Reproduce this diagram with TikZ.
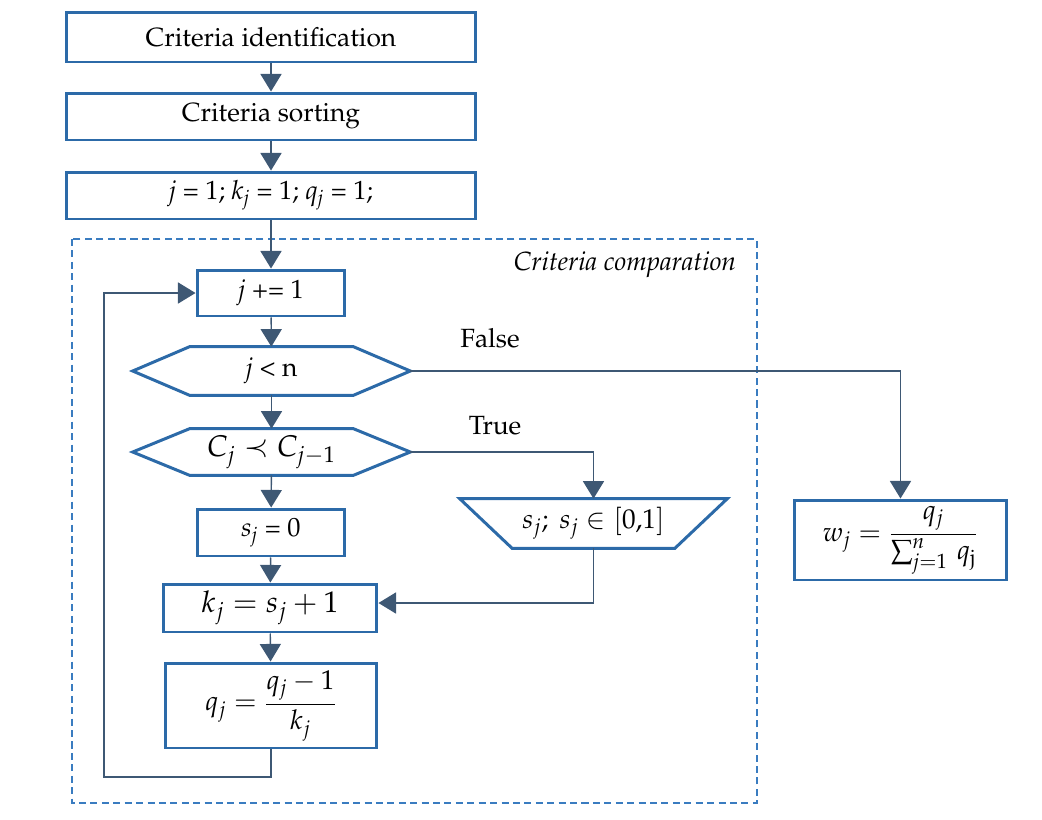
\documentclass[tikz,border=0pt]{standalone}
\usepackage{amsmath}
\usepackage[T1]{fontenc}
\usepackage{mathpazo}
\usepackage{amssymb}
\usepackage{tikz}
\usetikzlibrary{arrows.meta}
\definecolor{boxblue}{HTML}{2C6AA8}
\definecolor{flowline}{HTML}{3E5874}
\definecolor{framblue}{HTML}{3A7CC0}
\newcommand{\ivar}[2]{\textit{#1}\textsubscript{\textit{#2}}}

\begin{document}
\begin{tikzpicture}[x=0.02cm, y=-0.02cm, >={Triangle[length=10pt, width=12pt]},
    stepbox/.style={draw=boxblue, line width=1.7pt, minimum width=#1, inner sep=2pt, font=\fontsize{15}{18}\selectfont},
    plainbox/.style={minimum width=#1, inner sep=2pt, font=\fontsize{15}{18}\selectfont},
    bigtext/.style={font=\fontsize{15}{18}\selectfont},
    bigmath/.style={font=\fontsize{#1}{20}\selectfont},
    flow/.style={draw=flowline, line width=0.8pt},
    shapeline/.style={draw=boxblue, line width=1.7pt, line join=miter}]
  \useasboundingbox (0,0) rectangle (1042,819);
  % frame of the comparison loop
  \draw[framblue, line width=1.1pt, dash pattern=on 4pt off 2.5pt] (72,239) rectangle (757,803);
  \node[font=\fontsize{15}{18}\selectfont\itshape] (cmpl) at (625,265) {Criteria comparation};
  % steps
  \node[stepbox=8.2cm, minimum height=1.0cm] (ident) at (271,37) {Criteria identification};
  \node[stepbox=8.2cm, minimum height=0.94cm] (sort) at (271,116.5) {Criteria sorting};
  \node[stepbox=8.2cm, minimum height=0.94cm] (init) at (271,195.5) {\textit{j} = 1; \ivar{k}{j} = 1; \ivar{q}{j} = 1;};
  \node[stepbox=2.96cm, minimum height=0.92cm] (inc) at (271,293) {\textit{j} += 1};
  \node[plainbox=5.54cm, minimum height=0.96cm] (lt) at (271.5,371) {\textit{j} < n};
  \node[plainbox=5.54cm, minimum height=0.92cm, bigmath=17] (prec) at (271.5,452) {$C_j \prec C_{j-1}$};
  \node[stepbox=2.96cm, minimum height=0.94cm] (szero) at (271,532.5) {\ivar{s}{j} = 0};
  \node[plainbox=5.34cm, minimum height=0.98cm, bigmath=15.5] (rnd) at (593.5,523.5) {$s_j;\ s_j \in [0{,}1]$};
  \node[stepbox=4.28cm, minimum height=0.96cm, bigmath=17] (kupd) at (270,608) {$k_j = s_j + 1$};
  \node[stepbox=4.24cm, minimum height=1.7cm, bigmath=15.5] (qupd) at (271,705.5) {$q_j = \dfrac{q_j - 1}{k_j}$};
  \node[stepbox=4.26cm, minimum height=1.6cm, bigmath=15.5] (wout) at (900.5,540) {$w_j = \dfrac{q_j}{\sum\nolimits_{j=1}^{n}\, q_{\mathrm{j}}}$};
  % decision outlines
  \foreach \n in {lt, prec} {
    \draw[shapeline] (\n.west) -- ([xshift=1.14cm]\n.north west) -- ([xshift=-1.14cm]\n.north east)
      -- (\n.east) -- ([xshift=-1.14cm]\n.south east) -- ([xshift=1.14cm]\n.south west) -- cycle;
  }
  \draw[shapeline] (rnd.north west) -- (rnd.north east) -- ([xshift=-1.05cm]rnd.south east)
    -- ([xshift=1.05cm]rnd.south west) -- cycle;
  % connectors
  \draw[flow, ->] (ident) -- (sort);
  \draw[flow, ->] (sort) -- (init);
  \draw[flow, ->] (init) -- (inc);
  \draw[flow, ->] (inc) -- (lt);
  \draw[flow, ->] (lt) -- (prec);
  \draw[flow, ->] (prec) -- (szero);
  \draw[flow, ->] (szero) -- (kupd);
  \draw[flow, ->] (kupd) -- (qupd);
  \draw[flow, ->] (lt.east) -| (wout.north);
  \draw[flow, ->] (prec.east) -| (rnd.north);
  \draw[flow, ->] (rnd.south) |- ([yshift=0.1cm]kupd.east);
  \coordinate (back) at (104,777);
  \draw[flow, ->] (qupd.south) |- (back) |- (inc.west);
  \node[bigtext] (fls) at (490,338) {False};
  \node[bigtext] (tru) at (495,426) {True};
\end{tikzpicture}
\end{document}
